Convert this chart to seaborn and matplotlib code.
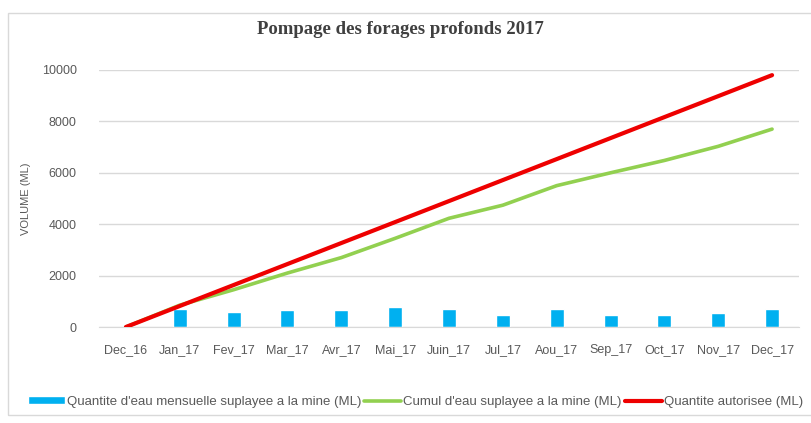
import numpy as np
import matplotlib
matplotlib.use("Agg")
import matplotlib.pyplot as plt
import seaborn as sns
from matplotlib.patches import Rectangle

months = ["Dec_16", "Jan_17", "Fev_17", "Mar_17", "Avr_17", "Mai_17", "Juin_17",
          "Jul_17", "Aou_17", "Sep_17", "Oct_17", "Nov_17", "Dec_17"]
mensuelle = [0, 690, 600, 650, 650, 780, 690, 480, 690, 480, 480, 530, 690]
cumul = [0, 850, 1450, 2100, 2700, 3450, 4230, 4740, 5500, 6000, 6480, 7030, 7700]
autorisee = [0, 817, 1633, 2450, 3267, 4083, 4900, 5717, 6533, 7350, 8167, 8983, 9800]
yticks = [0, 2000, 4000, 6000, 8000, 10000]

lab_bar = "Quantite d'eau mensuelle suplayee a la mine (ML)"
lab_cum = "Cumul d'eau suplayee a la mine (ML)"
lab_aut = "Quantite autorisee (ML)"

sns.set_style("white")
plt.rcParams["font.family"] = ["Liberation Sans", "DejaVu Sans"]

fig = plt.figure(figsize=(8.12, 4.23), dpi=100)
ax = fig.add_axes([99 / 812, 1 - 327 / 423, 700 / 812, 257 / 423])

# outer chart frame
fig.patches.append(Rectangle((8 / 812, 8 / 423), 1.0, 1 - 21 / 423,
                             transform=fig.transFigure, fill=False,
                             edgecolor="#d9d9d9", linewidth=1))

sns.barplot(x=months, y=mensuelle, color="#00B0F0", width=0.26,
            saturation=1, label=lab_bar, ax=ax, zorder=2)
pos = np.arange(len(months))
sns.lineplot(x=pos, y=cumul, color="#92D050", linewidth=2.6, label=lab_cum,
             ax=ax, zorder=3)
sns.lineplot(x=pos, y=autorisee, color="#EE0000", linewidth=3, label=lab_aut,
             ax=ax, zorder=4)

ax.set_xlim(-0.5, len(months) - 0.5)
ax.set_ylim(0, 10000)
ax.set_yticks(yticks)
ax.set_yticklabels([str(v) for v in yticks])
ax.grid(axis="y", color="#d9d9d9", linewidth=1, zorder=0)
ax.set_axisbelow(True)
for s in ["top", "right", "left"]:
    ax.spines[s].set_visible(False)
ax.spines["bottom"].set_color("#d9d9d9")
ax.tick_params(axis="both", length=0, labelsize=9, labelcolor="#595959")
ax.tick_params(axis="y", pad=16)
ax.tick_params(axis="x", pad=12)
ax.set_xlabel("")
ax.set_ylabel("VOLUME (ML)", fontsize=8, color="#595959", labelpad=8)

fig.text(400 / 812, 1 - 30 / 423, "Pompage des forages profonds 2017",
         ha="center", va="center", fontsize=13.5, fontweight="bold",
         color="#404040", family=["Liberation Serif", "DejaVu Serif"])

handles, labels = ax.get_legend_handles_labels()
ax.get_legend().remove()
order = [labels.index(lab_bar), labels.index(lab_cum), labels.index(lab_aut)]
fig.legend([handles[i] for i in order], [labels[i] for i in order],
           loc="center left", bbox_to_anchor=(16 / 812, 1 - 402 / 423),
           ncol=3, frameon=False, fontsize=9.5, handlelength=2.8,
           handleheight=0.55, handletextpad=0.15, columnspacing=0.25,
           labelcolor="#595959")

fig.savefig("out.png", dpi=100)
